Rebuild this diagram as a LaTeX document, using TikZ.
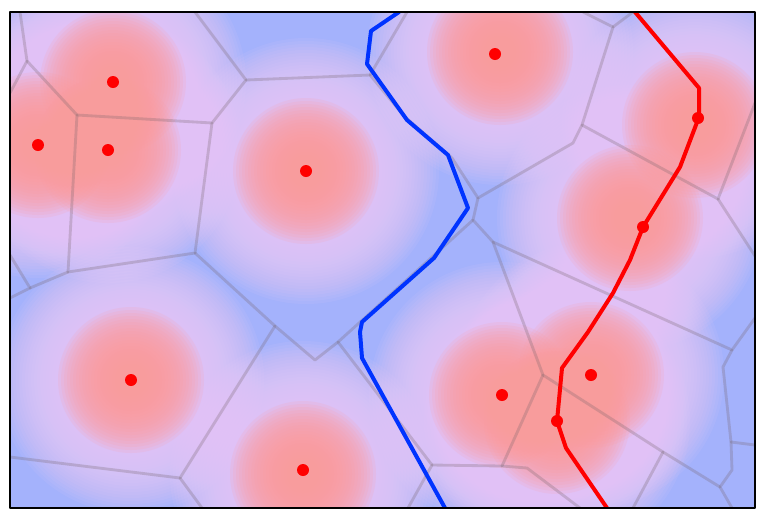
\documentclass[tikz,border=0pt]{standalone}
\usepackage{xcolor}
\usepackage{tikz}
\definecolor{fieldblue}{HTML}{A4B2FC}
\definecolor{fieldlav}{HTML}{ECCCF6}
\definecolor{fieldred}{HTML}{FF9C9C}
\definecolor{cellline}{HTML}{746269}
\definecolor{pathblue}{HTML}{0033FF}
\definecolor{pathred}{HTML}{FF0000}
\tikzset{
every picture/.style={line cap=round,line join=round},
cell edge/.style={draw=cellline, draw opacity=0.27, line width=0.085cm},
frame line/.style={draw=black, line width=0.06cm},
blue route/.style={draw=pathblue, line width=0.12cm},
red route/.style={draw=pathred, line width=0.12cm},
site dot/.style={fill=pathred},
halo glow/.style={fill=fieldlav, fill opacity=0.09},
core glow/.style={fill=fieldred, fill opacity=0.14}
}
\begin{document}
\begin{tikzpicture}[x=0.03cm,y=-0.03cm]
\useasboundingbox (0,0) rectangle (767,521);
% cell corners
\coordinate (A) at (27,61);
\coordinate (B) at (77,115);
\coordinate (C) at (212,123);
\coordinate (D) at (68,272);
\coordinate (E) at (246,80);
\coordinate (F) at (370,75);
\coordinate (G) at (478,198);
\coordinate (H) at (195,253);
\coordinate (I) at (315,360);
\coordinate (J) at (180,478);
\coordinate (K) at (275,326);
\coordinate (L) at (338,342);
\coordinate (M) at (432,465);
\coordinate (N) at (30,288);
\coordinate (P) at (613,27);
\coordinate (Q) at (582,125);
\coordinate (Q2) at (573,143);
\coordinate (R) at (718,199);
\coordinate (S) at (543,375);
\coordinate (T) at (720,487);
\coordinate (V) at (663,452);
\coordinate (W) at (502,466);
\coordinate (W2) at (527,468);
\coordinate (X) at (473,220);
\coordinate (Y) at (493,242);
\coordinate (Z) at (732,350);
\coordinate (Z2) at (723,367);
\coordinate (Z3) at (731,442);
\coordinate (Z4) at (732,470);
\begin{scope}
\clip (10,12) rectangle (755,508);
\fill[fieldblue] (10,12) rectangle (755,508);
% soft glow round the sites
\foreach \x/\y in {113/82,38/145,108/150,306/171,500/52,695/125,630/218,131/380,303/474,502/395,591/375,557/421}
  {\foreach \k in {1,...,24} {\fill[halo glow] (\x,\y) circle ({136-3*\k});}}
\foreach \x/\y in {113/82,38/145,108/150,306/171,500/52,695/125,630/218,131/380,303/474,502/395,591/375,557/421}
  {\foreach \k in {1,...,20} {\fill[core glow] (\x,\y) circle ({76-3*\k});}}
% cell edges
\draw[cell edge] (20,12) -- (A) -- (10,93);
\draw[cell edge] (A) -- (B) -- (C) -- (E) -- (195,12);
\draw[cell edge] (B) -- (D) -- (H) -- (C);
\draw[cell edge] (10,255) -- (N) -- (10,298);
\draw[cell edge] (N) -- (D);
\draw[cell edge] (E) -- (F) -- (407,12);
\draw[cell edge] (F) -- (404,116) -- (452,158) -- (G) -- (Q2) -- (Q) -- (P) -- (583,12);
\draw[cell edge] (P) -- (633,12);
\draw[cell edge] (Q) -- (R) -- (755,103);
\draw[cell edge] (R) -- (755,256);
\draw[cell edge] (G) -- (X) -- (Y) -- (Z) -- (755,318);
\draw[cell edge] (Z) -- (Z2) -- (Z3) -- (Z4) -- (T) -- (732,508);
\draw[cell edge] (Z3) -- (755,445);
\draw[cell edge] (Y) -- (S) -- (V) -- (T);
\draw[cell edge] (V) -- (633,508);
\draw[cell edge] (S) -- (W);
\draw[cell edge] (H) -- (K) -- (I) -- (L) -- (X);
\draw[cell edge] (K) -- (J) -- (10,457);
\draw[cell edge] (J) -- (202,508);
\draw[cell edge] (L) -- (M) -- (408,508);
\draw[cell edge] (M) -- (W) -- (W2) -- (580,508);
% routes
\draw[blue route] (399,12) -- (371,31) -- (367,64) -- (407,120) -- (448,155) -- (468,208)
  -- (434,258) -- (362,322) -- (360,332) -- (362,358) -- (445,508);
\draw[red route] (635,12) -- (699,88) -- (699,117) -- (680,167) -- (643,227) -- (630,260)
  -- (613,293) -- (588,332) -- (562,368) -- (557,421) -- (566,448) -- (607,508);
\end{scope}
\foreach \x/\y in {113/82,38/145,108/150,306/171,495/54,698/118,643/227,131/380,303/470,502/395,591/375,557/421}
  {\fill[site dot] (\x,\y) circle (6);}
\draw[frame line] (10,12) rectangle (755,508);
\end{tikzpicture}
\end{document}
